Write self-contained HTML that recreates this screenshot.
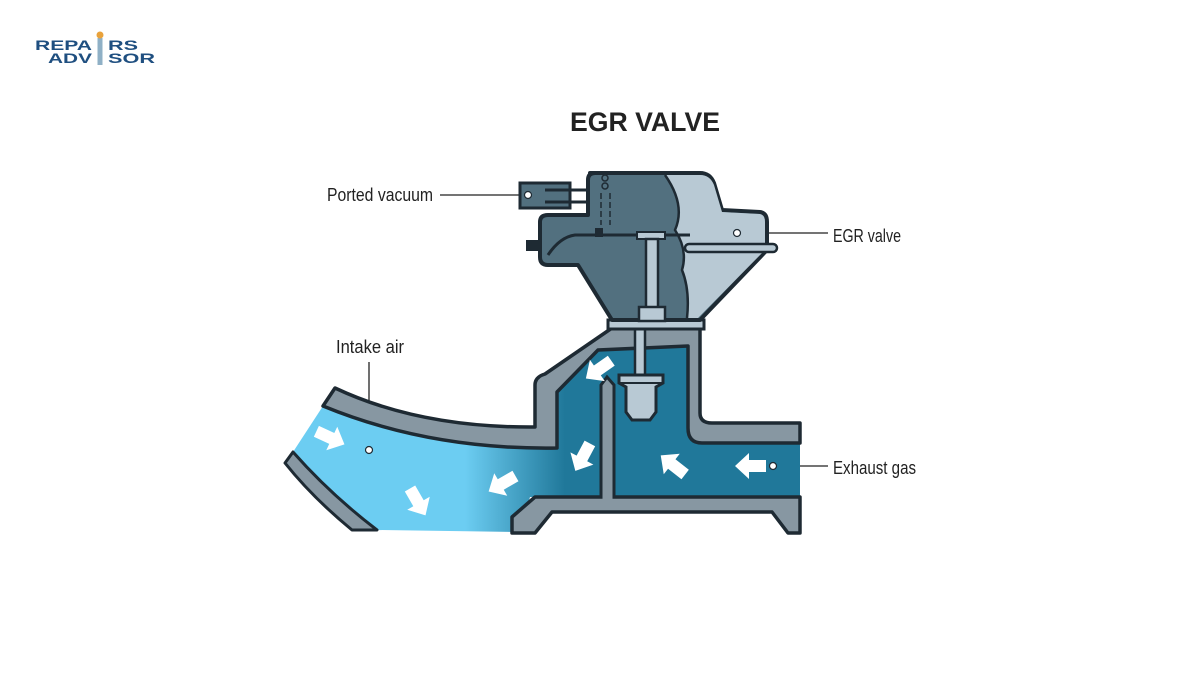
<!DOCTYPE html>
<html><head><meta charset="utf-8"><style>
html,body{margin:0;padding:0;background:#fff;width:1200px;height:675px;overflow:hidden}
svg text{font-family:"Liberation Sans",sans-serif}
</style></head><body>
<svg width="1200" height="675" viewBox="0 0 1200 675" xmlns="http://www.w3.org/2000/svg">
<defs>
<linearGradient id="g1" gradientUnits="userSpaceOnUse" x1="465" y1="0" x2="565" y2="0">
<stop offset="0" stop-color="#6ccdf2"/><stop offset="1" stop-color="#20789a"/>
</linearGradient>
<path id="ar" d="M-4,-6 L13,-6 L13,-13 L27,0 L13,13 L13,6 L-4,6 Z" fill="#fff"/>
</defs>
<!-- logo -->
<g font-size="14" font-weight="bold" fill="#1f4f80">
<text x="35" y="50" textLength="57" lengthAdjust="spacingAndGlyphs">REPA</text>
<text x="108" y="50" textLength="30" lengthAdjust="spacingAndGlyphs">RS</text>
<text x="48" y="63" textLength="44" lengthAdjust="spacingAndGlyphs">ADV</text>
<text x="108" y="63" textLength="47" lengthAdjust="spacingAndGlyphs">SOR</text>
</g>
<rect x="97.5" y="38" width="5" height="27" fill="#8fb0c6"/>
<circle cx="100" cy="35" r="3.5" fill="#e9a23b"/>
<!-- title -->
<text x="645" y="131" font-size="27" font-weight="bold" fill="#222" text-anchor="middle" textLength="150" lengthAdjust="spacingAndGlyphs">EGR VALVE</text>
<!-- labels -->
<g font-size="18" fill="#222">
<text x="327" y="201" textLength="106" lengthAdjust="spacingAndGlyphs">Ported vacuum</text>
<text x="833" y="242" textLength="68" lengthAdjust="spacingAndGlyphs">EGR valve</text>
<text x="336" y="353" textLength="68" lengthAdjust="spacingAndGlyphs">Intake air</text>
<text x="833" y="474" textLength="83" lengthAdjust="spacingAndGlyphs">Exhaust gas</text>
</g>
<g stroke="#222" stroke-width="1.3">
<line x1="440" y1="195" x2="528" y2="195"/><line x1="738" y1="233" x2="828" y2="233"/>
<line x1="369" y1="362" x2="369" y2="450"/><line x1="773" y1="466" x2="828" y2="466"/>
</g>
<!-- flow area -->
<path d="M323,406 Q430,450 557,448 L557,392 L598,350 L688,346 L688,428 Q688,443 702,443 L800,443 L800,497 L530,497 L520,532 L377,530 Q330,492 293,452 Z" fill="url(#g1)"/>
<path d="M600,348 L688,346 L688,345 L688,330 L612,330 Z" fill="#b8c9d4"/>
<path d="M598,350 Q640,340 688,343" fill="none" stroke="#1e2a33" stroke-width="2"/>
<!-- top walls -->
<path d="M335,388 Q420,428 535,427 L535,385 Q535,377 545,374 L612,328 L700,328 L700,413 Q700,423 712,423 L800,423 L800,443 L702,443 Q688,443 688,428 L688,346 L598,350 L557,392 L557,448 Q430,450 323,406 Z" fill="#8797a2" stroke="#1e2a33" stroke-width="3.5" stroke-linejoin="round"/>
<!-- lower intake wall -->
<path d="M285,463 L293,452 Q330,494 377,530 L352,530 Q312,497 285,463 Z" fill="#8797a2" stroke="#1e2a33" stroke-width="3" stroke-linejoin="round"/>
<!-- bottom wall -->
<path d="M512,533 L512,517 L535,497 L800,497 L800,533 L788,533 L772,512 L552,512 L535,533 Z" fill="#8797a2" stroke="#1e2a33" stroke-width="3.5" stroke-linejoin="round"/>
<!-- divider -->
<path d="M601,497 L601,385 L607,377 L614,385 L614,497" fill="#8797a2" stroke="#1e2a33" stroke-width="3"/>
<rect x="602.5" y="490" width="10" height="9" fill="#8797a2"/>
<!-- stem / poppet -->
<rect x="635" y="328" width="10" height="48" fill="#b8c9d4" stroke="#1e2a33" stroke-width="2.5"/>
<path d="M619,375 L663,375 L663,383 L656,387 L656,412 L650,420 L632,420 L626,412 L626,387 L619,383 Z" fill="#b8c9d4" stroke="#1e2a33" stroke-width="3"/>
<line x1="619" y1="383" x2="663" y2="383" stroke="#1e2a33" stroke-width="2"/>
<!-- arrows -->
<use href="#ar" transform="translate(320,433) rotate(25)"/>
<use href="#ar" transform="translate(412,492) rotate(60)"/>
<use href="#ar" transform="translate(512,478) rotate(150)"/>
<use href="#ar" transform="translate(588,447) rotate(118)"/>
<use href="#ar" transform="translate(608,363) rotate(145)"/>
<use href="#ar" transform="translate(682,472) rotate(218)"/>
<use href="#ar" transform="translate(762,466) rotate(180)"/>
<circle cx="369" cy="450" r="3.5" fill="#fff" stroke="#1e2a33" stroke-width="1.2"/>
<circle cx="773" cy="466" r="3.5" fill="#fff" stroke="#1e2a33" stroke-width="1.2"/>
<!-- valve top -->
<rect x="608" y="320" width="96" height="9" fill="#b8c9d4" stroke="#1e2a33" stroke-width="3"/>
<path d="M590,173 L700,173 Q710,173 714,183 L722,210 L760,212 Q767,213 767,222 L767,250 L700,320 L612,320 L578,265 L548,265 Q540,265 540,257 L540,222 Q540,215 548,215 L588,215 L588,180 Q588,173 595,173 Z" fill="#52707f" stroke="#1e2a33" stroke-width="4" stroke-linejoin="round"/>
<path d="M665,175 L700,175 Q710,175 714,185 L722,212 L760,214 Q765,215 765,222 L765,250 L698,318 L687,318 Q690,290 682,270 Q688,250 675,230 Q686,205 665,175 Z" fill="#b8c9d4"/>
<path d="M665,175 Q686,205 675,230 Q688,250 682,270 Q690,290 687,318" fill="none" stroke="#1e2a33" stroke-width="2.5"/>
<path d="M548,255 Q560,237 575,235 L690,235" fill="none" stroke="#1e2a33" stroke-width="3"/>
<rect x="685" y="244" width="92" height="8" rx="4" fill="#b8c9d4" stroke="#1e2a33" stroke-width="2.5"/>
<rect x="526" y="240" width="16" height="11" fill="#1e2a33"/>
<rect x="637" y="232" width="28" height="7" fill="#b8c9d4" stroke="#1e2a33" stroke-width="2"/>
<rect x="646" y="239" width="12" height="70" fill="#b8c9d4" stroke="#1e2a33" stroke-width="2.5"/>
<rect x="639" y="307" width="26" height="14" fill="#b8c9d4" stroke="#1e2a33" stroke-width="2.5"/>
<rect x="520" y="183" width="50" height="25" fill="#52707f" stroke="#1e2a33" stroke-width="3"/>
<line x1="545" y1="190" x2="588" y2="190" stroke="#1e2a33" stroke-width="3"/>
<line x1="545" y1="202" x2="588" y2="202" stroke="#1e2a33" stroke-width="3"/>
<circle cx="528" cy="195" r="3.5" fill="#fff" stroke="#1e2a33" stroke-width="1.2"/>
<circle cx="737" cy="233" r="3.5" fill="#fff" stroke="#1e2a33" stroke-width="1.2"/>
<circle cx="605" cy="178" r="3" fill="none" stroke="#1e2a33" stroke-width="1.5"/>
<circle cx="605" cy="186" r="3" fill="none" stroke="#1e2a33" stroke-width="1.5"/>
<line x1="601" y1="193" x2="601" y2="225" stroke="#1e2a33" stroke-width="1.5" stroke-dasharray="6,3"/>
<line x1="610" y1="193" x2="610" y2="225" stroke="#1e2a33" stroke-width="1.5" stroke-dasharray="6,3"/>
<rect x="595" y="228" width="8" height="9" fill="#1e2a33"/>
</svg>
</body></html>
